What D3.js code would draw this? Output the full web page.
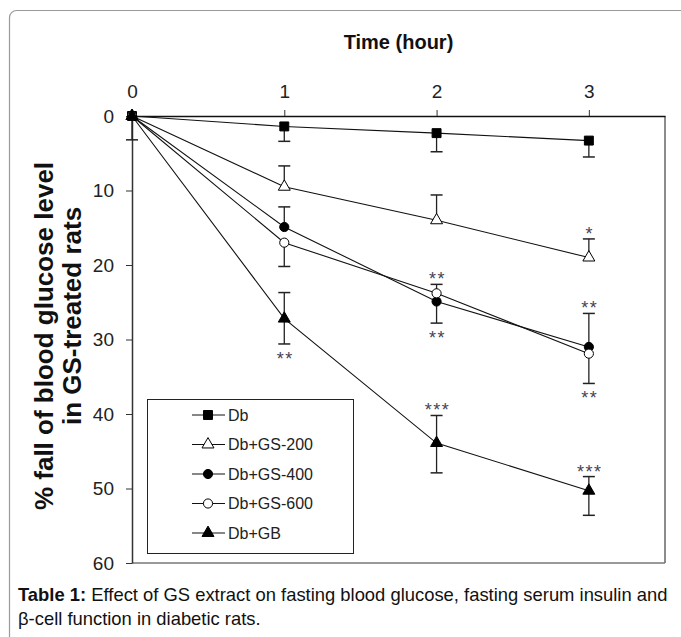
<!DOCTYPE html>
<html>
<head>
<meta charset="utf-8">
<script src="https://cdn.jsdelivr.net/npm/d3@7"></script>
<style>
  body { margin: 0; background: #fff; }
  svg { font-family: "Liberation Sans", Arial, sans-serif; }
</style>
</head>
<body>
<svg id="chart" width="681" height="637"></svg>
<script>
// hours on the top axis
var hours = [0, 1, 2, 3];
var xTicks = [0, 1, 2, 3];
var yTicks = [0, 10, 20, 30, 40, 50, 60];

// % fall of blood glucose
var seriesNames = ["Db", "Db+GS-200", "Db+GS-400", "Db+GS-600", "Db+GB"];
var dbVals    = [0, 1.4, 2.3, 3.3];
var gs200Vals = [0, 9.5, 14.0, 19.0];
var gs400Vals = [0, 14.9, 24.9, 31.0];
var gs600Vals = [0, 17.0, 23.8, 31.9];
var gbVals    = [0, 27.2, 43.9, 50.3];

// error bars, drawn towards smaller (up) and larger (down) values
var dbErrUp      = [0, 0, 0, 0];
var dbErrDown    = [3.2, 2.0, 2.5, 2.2];
var gs200ErrUp   = [0, 2.8, 3.4, 2.5];
var gs200ErrDown = [0, 0, 0, 0];
var gs400ErrUp   = [0, 2.7, 0, 4.5];
var gs400ErrDown = [0, 0, 2.9, 0];
var gs600ErrUp   = [0, 0, 1.2, 0];
var gs600ErrDown = [0, 3.2, 0, 4.0];
var gbErrUp      = [0, 3.5, 3.7, 1.9];
var gbErrDown    = [0, 3.4, 4.0, 3.3];

// significance marks: series index, hour index, label, side
var starSeries = [4, 3, 2, 4, 1, 2, 3, 4];
var starHour   = [1, 2, 2, 2, 3, 3, 3, 3];
var starText   = ["**", "**", "**", "***", "*", "**", "**", "***"];
var starSide   = ["down", "up", "down", "up", "up", "up", "down", "up"];

var values = [dbVals, gs200Vals, gs400Vals, gs600Vals, gbVals];
var errUp = [dbErrUp, gs200ErrUp, gs400ErrUp, gs600ErrUp, gbErrUp];
var errDown = [dbErrDown, gs200ErrDown, gs400ErrDown, gs600ErrDown, gbErrDown];
var shapes = [d3.symbolSquare, d3.symbolTriangle, d3.symbolCircle, d3.symbolCircle, d3.symbolTriangle];
var sizes = [80, 62, 66, 66, 62];
var fills = ["#000", "#fff", "#000", "#fff", "#000"];

var svg = d3.select("#chart");

// outer frame of the figure panel
svg.append("rect")
  .attr("x", 9.5).attr("y", 10.5)
  .attr("width", 700).attr("height", 700)
  .attr("rx", 7)
  .attr("fill", "none")
  .attr("stroke", "#9a9a9a")
  .attr("stroke-width", 1.2);

var plotLeft = 132, plotTop = 116, plotRight = 665, plotBottom = 563;

var x = d3.scaleLinear().domain([0, 3.5]).range([plotLeft, plotRight]);
var y = d3.scaleLinear().domain([0, 60]).range([plotTop, plotBottom]);

// right and bottom frame lines
svg.append("line")
  .attr("x1", plotRight).attr("x2", plotRight).attr("y1", plotTop).attr("y2", plotBottom)
  .attr("stroke", "#666").attr("stroke-width", 1.5);
svg.append("line")
  .attr("x1", plotLeft).attr("x2", plotRight).attr("y1", plotBottom).attr("y2", plotBottom)
  .attr("stroke", "#777").attr("stroke-width", 1.5);

var xAxis = svg.append("g")
  .attr("transform", "translate(0," + plotTop + ")")
  .call(d3.axisTop(x).tickValues(xTicks).tickFormat(d3.format("d"))
    .tickSize(6).tickPadding(12).tickSizeOuter(0));
xAxis.select(".domain").attr("stroke", "#111").attr("stroke-width", 1.5);
xAxis.selectAll(".tick line").attr("stroke", "#333");
xAxis.selectAll("text").attr("font-size", 19).attr("fill", "#222")
  .attr("font-family", "Liberation Sans, Arial, sans-serif");

var yAxis = svg.append("g")
  .attr("transform", "translate(" + plotLeft + ",0)")
  .call(d3.axisLeft(y).tickValues(yTicks).tickSize(6).tickPadding(12).tickSizeOuter(0));
yAxis.select(".domain").attr("stroke", "#333").attr("stroke-width", 1.5);
yAxis.selectAll(".tick line").attr("stroke", "#333");
yAxis.selectAll("text").attr("font-size", 19).attr("fill", "#222")
  .attr("font-family", "Liberation Sans, Arial, sans-serif");

// titles
svg.append("text")
  .attr("x", (plotLeft + plotRight) / 2).attr("y", 42)
  .attr("dy", "0.35em")
  .attr("text-anchor", "middle")
  .attr("font-weight", "bold").attr("font-size", 20).attr("fill", "#111")
  .text("Time (hour)");

svg.append("text")
  .attr("transform", "translate(44,336) rotate(-90)")
  .attr("dy", "0.35em")
  .attr("text-anchor", "middle")
  .attr("font-weight", "bold").attr("font-size", 26).attr("fill", "#111")
  .text("% fall of blood glucose level");

svg.append("text")
  .attr("transform", "translate(72,316) rotate(-90)")
  .attr("dy", "0.35em")
  .attr("text-anchor", "middle")
  .attr("font-weight", "bold").attr("font-size", 26).attr("fill", "#111")
  .text("in GS-treated rats");

var line = d3.line()
  .x(function(d, i) { return x(hours[i]); })
  .y(function(d) { return y(d); });

// lines
values.forEach(function(vals) {
  svg.append("path")
    .attr("d", line(vals))
    .attr("fill", "none")
    .attr("stroke", "#111")
    .attr("stroke-width", 1.1);
});

// error bars
values.forEach(function(vals, s) {
  vals.forEach(function(v, i) {
    var cx = x(hours[i]);
    [[errUp[s][i], -1], [errDown[s][i], 1]].forEach(function(e) {
      if (!e[0]) return;
      var end = y(v + e[1] * e[0]);
      svg.append("line")
        .attr("x1", cx).attr("x2", cx).attr("y1", y(v)).attr("y2", end)
        .attr("stroke", "#222").attr("stroke-width", 1.3);
      svg.append("line")
        .attr("x1", cx - 6).attr("x2", cx + 6).attr("y1", end).attr("y2", end)
        .attr("stroke", "#222").attr("stroke-width", 1.5);
    });
  });
});

// markers
values.forEach(function(vals, s) {
  svg.selectAll(".m" + s)
    .data(vals)
    .enter().append("path")
    .attr("class", "m" + s)
    .attr("transform", function(d, i) { return "translate(" + x(hours[i]) + "," + y(d) + ")"; })
    .attr("d", d3.symbol().type(shapes[s]).size(sizes[s]))
    .attr("fill", fills[s])
    .attr("stroke", "#000")
    .attr("stroke-width", 1);
});

// significance stars
starText.forEach(function(t, k) {
  var s = starSeries[k], i = starHour[k];
  var v = values[s][i];
  var end = starSide[k] === "up" ? y(v - errUp[s][i]) - 9 : y(v + errDown[s][i]) + 11;
  svg.append("text")
    .attr("x", x(hours[i]) + 1).attr("y", end + 10)
    .attr("text-anchor", "middle")
    .attr("font-size", 18)
    .attr("letter-spacing", 1.5)
    .attr("fill", "#445")
    .text(t);
});

// legend
var legend = svg.append("g");
legend.append("rect")
  .attr("x", 147.5).attr("y", 399.5)
  .attr("width", 206).attr("height", 154)
  .attr("fill", "#fff")
  .attr("stroke", "#222").attr("stroke-width", 1);

seriesNames.forEach(function(name, s) {
  var ly = 415 + s * 29.5;
  legend.append("line")
    .attr("x1", 192).attr("x2", 225).attr("y1", ly).attr("y2", ly)
    .attr("stroke", "#111").attr("stroke-width", 1.1);
  legend.append("path")
    .attr("transform", "translate(208," + ly + ")")
    .attr("d", d3.symbol().type(shapes[s]).size(sizes[s]))
    .attr("fill", fills[s]).attr("stroke", "#000").attr("stroke-width", 1);
  legend.append("text")
    .attr("x", 228).attr("y", ly).attr("dy", "0.35em")
    .attr("font-size", 16).attr("fill", "#222")
    .text(name);
});

// caption
var cap = svg.append("text")
  .attr("x", 18).attr("y", 595).attr("dy", "0.35em")
  .attr("font-size", 18.4).attr("fill", "#111");
cap.append("tspan").attr("font-weight", "bold").text("Table 1:");
cap.append("tspan").text(" Effect of GS extract on fasting blood glucose, fasting serum insulin and");

svg.append("text")
  .attr("x", 18).attr("y", 619).attr("dy", "0.35em")
  .attr("font-size", 18.4).attr("fill", "#111")
  .text("β-cell function in diabetic rats.");
</script>
</body>
</html>
